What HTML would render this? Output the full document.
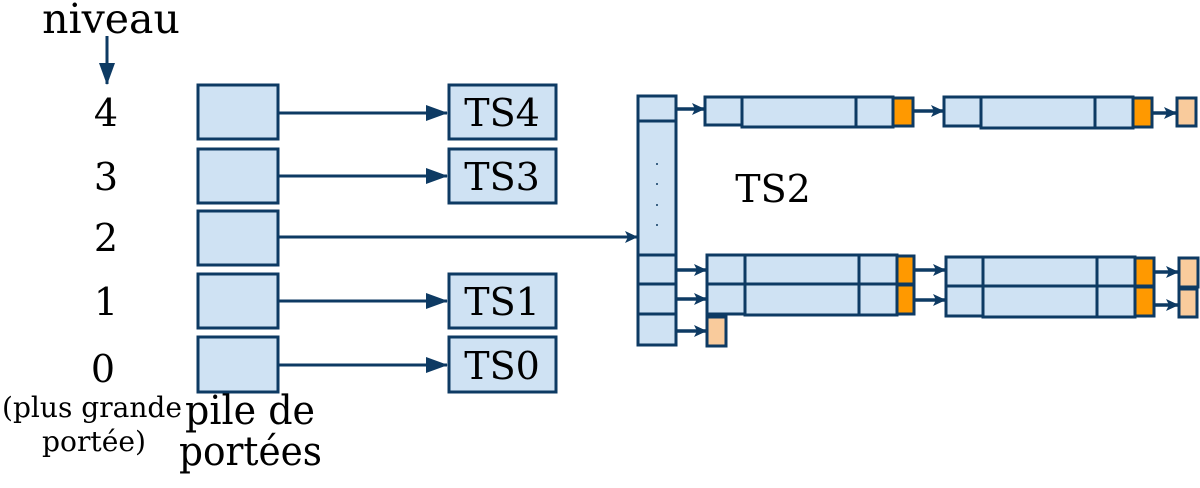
<!DOCTYPE html>
<html><head><meta charset="utf-8"><style>
body{margin:0;background:#fff;width:1200px;height:483px;overflow:hidden}
text{font-family:"DejaVu Serif","Liberation Serif",serif;fill:#000}
</style></head><body>
<svg width="1200" height="483" viewBox="0 0 1200 483" xmlns="http://www.w3.org/2000/svg">
<defs>
<marker id="a" markerWidth="13" markerHeight="12" refX="12" refY="6" orient="auto" markerUnits="userSpaceOnUse" viewBox="0 0 13 12">
<path d="M0,0 L13,6 L0,12 L3,6 z" fill="#0d3a63"/></marker>
<marker id="b" markerWidth="22" markerHeight="16" refX="21" refY="8" orient="auto" markerUnits="userSpaceOnUse" viewBox="0 0 22 16">
<path d="M0,0 L22,8 L0,16 z" fill="#0d3a63"/></marker>
</defs>
<g fill="#cfe2f3" stroke="#0d3a63" stroke-width="3">
<rect x="198" y="85" width="80" height="54"/>
<rect x="198" y="149" width="80" height="54"/>
<rect x="198" y="211" width="80" height="54"/>
<rect x="198" y="274" width="80" height="54"/>
<rect x="198" y="337" width="80" height="55"/>
<rect x="449" y="85" width="107" height="54"/>
<rect x="449" y="149" width="107" height="54"/>
<rect x="449" y="274" width="107" height="54"/>
<rect x="449" y="337" width="107" height="55"/>
</g>
<g stroke="#0d3a63" stroke-width="3">
<line x1="278" y1="113" x2="447" y2="113" marker-end="url(#b)"/>
<line x1="278" y1="176" x2="447" y2="176" marker-end="url(#b)"/>
<line x1="278" y1="301" x2="447" y2="301" marker-end="url(#b)"/>
<line x1="278" y1="365" x2="447" y2="365" marker-end="url(#b)"/>
<line x1="278" y1="237" x2="637" y2="237" marker-end="url(#a)" />
<line x1="107" y1="36" x2="107" y2="84" marker-end="url(#b)"/>
</g>
<g font-size="38" text-anchor="middle">
<text x="502" y="126">TS4</text><text x="502" y="190">TS3</text>
<text x="502" y="315">TS1</text><text x="502" y="379">TS0</text>
<text x="773" y="202">TS2</text>
<text x="106" y="126">4</text><text x="106" y="190">3</text><text x="106" y="251">2</text>
<text x="106" y="315">1</text><text x="103" y="382">0</text>
<text x="111" y="33" font-size="41">niveau</text>
</g>
<text x="2" y="417" font-size="28" textLength="180" lengthAdjust="spacingAndGlyphs">(plus grande</text>
<text x="42" y="451" font-size="28" textLength="104" lengthAdjust="spacingAndGlyphs">portée)</text>
<text x="185" y="424" font-size="40" textLength="130" lengthAdjust="spacingAndGlyphs">pile de</text>
<text x="179" y="465" font-size="40" textLength="143" lengthAdjust="spacingAndGlyphs">portées</text>
<g fill="#cfe2f3" stroke="#0d3a63" stroke-width="3">
<rect x="638" y="96" width="38" height="25"/>
<rect x="638" y="121" width="38" height="134"/>
<rect x="638" y="255" width="38" height="29"/>
<rect x="638" y="284" width="38" height="30"/>
<rect x="638" y="314" width="38" height="31"/>
<rect x="705" y="97" width="37" height="28"/>
<rect x="742" y="97" width="114" height="30"/>
<rect x="856" y="97" width="37" height="30"/>
<rect x="944" y="97" width="37" height="29"/>
<rect x="981" y="97" width="114" height="31"/>
<rect x="1095" y="97" width="38" height="31"/>
<rect x="707" y="255" width="38" height="29"/>
<rect x="745" y="255" width="114" height="29"/>
<rect x="859" y="255" width="38" height="29"/>
<rect x="707" y="284" width="38" height="30"/>
<rect x="745" y="284" width="114" height="31"/>
<rect x="859" y="284" width="38" height="31"/>
<rect x="946" y="257" width="37" height="29"/>
<rect x="983" y="257" width="114" height="29"/>
<rect x="1097" y="257" width="38" height="29"/>
<rect x="946" y="286" width="37" height="30"/>
<rect x="983" y="286" width="114" height="31"/>
<rect x="1097" y="286" width="38" height="31"/>
</g>
<g fill="#ff9900" stroke="#0d3a63" stroke-width="3">
<rect x="893" y="98" width="20" height="28"/>
<rect x="1133" y="98" width="19" height="29"/>
<rect x="897" y="256" width="17" height="28"/>
<rect x="897" y="285" width="17" height="29"/>
<rect x="1135" y="258" width="19" height="28"/>
<rect x="1135" y="287" width="19" height="29"/>
</g>
<g fill="#f9cb9c" stroke="#0d3a63" stroke-width="3">
<rect x="1177" y="98" width="19" height="28"/>
<rect x="1179" y="258" width="19" height="29"/>
<rect x="1179" y="289" width="18" height="28"/>
<rect x="707" y="317" width="19" height="29"/>
</g>
<g fill="#0d3a63"><circle cx="657" cy="164" r="1"/><circle cx="657" cy="184" r="1"/><circle cx="657" cy="205" r="1"/><circle cx="657" cy="225" r="1"/></g>
<g stroke="#0d3a63" stroke-width="3.5">
<line x1="676" y1="109" x2="704" y2="109" marker-end="url(#a)"/>
<line x1="913" y1="111" x2="943" y2="111" marker-end="url(#a)"/>
<line x1="1152" y1="113" x2="1176" y2="113" marker-end="url(#a)"/>
<line x1="676" y1="270" x2="706" y2="270" marker-end="url(#a)"/>
<line x1="676" y1="299" x2="706" y2="299" marker-end="url(#a)"/>
<line x1="676" y1="331" x2="706" y2="331" marker-end="url(#a)"/>
<line x1="914" y1="270" x2="945" y2="270" marker-end="url(#a)"/>
<line x1="914" y1="300" x2="945" y2="300" marker-end="url(#a)"/>
<line x1="1154" y1="272" x2="1178" y2="272" marker-end="url(#a)"/>
<line x1="1154" y1="305" x2="1178" y2="305" marker-end="url(#a)"/>
</g>
</svg>
</body></html>
